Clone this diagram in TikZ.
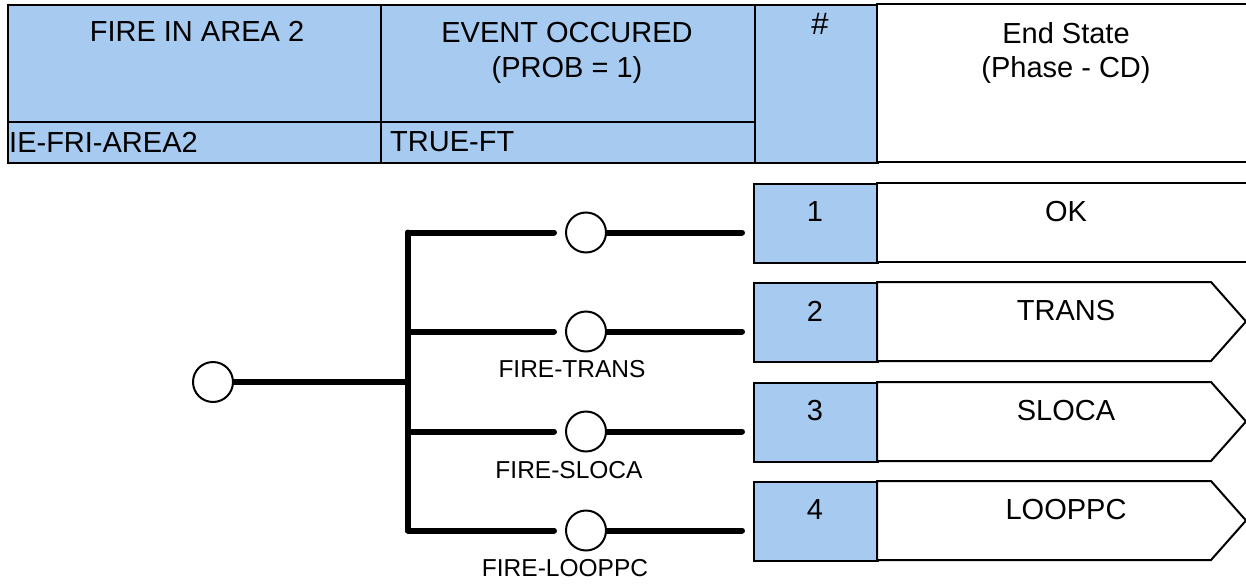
\documentclass[tikz,border=0pt]{standalone}
\usepackage{fontspec}
\setmainfont{Liberation Sans}
\usetikzlibrary{backgrounds}
\definecolor{cellblue}{RGB}{166,202,240}
\begin{document}
\begin{tikzpicture}[x=1pt,y=-1pt,
  cell/.style={draw=black,line width=2pt},
  bluecell/.style={cell,fill=cellblue,anchor=north west,inner sep=0pt},
  txt/.style={font=\fontsize{29}{34}\selectfont,inner sep=0pt},
  lbl/.style={font=\fontsize{24.5}{28}\selectfont,inner sep=0pt},
  ecirc/.style={circle,draw=black,line width=2pt,fill=white,minimum size=40pt,inner sep=0pt},
  branch/.style={line width=6pt,line cap=round},
]
\useasboundingbox (0,0) rectangle (1246,583);
\clip (0,0) rectangle (1246,583);

% ---------- header ----------
\node[bluecell,minimum width=373pt,minimum height=117pt] (h1) at (7,4) {};
\node[bluecell,minimum width=373pt,minimum height=41pt] (h1b) at (7,121) {};
\node[bluecell,minimum width=374pt,minimum height=117pt] (h2) at (380,4) {};
\node[bluecell,minimum width=374pt,minimum height=41pt] (h2b) at (380,121) {};
\node[bluecell,minimum width=123pt,minimum height=158pt] (h3) at (754,4) {};
\draw[cell,fill=white] (877,4) rectangle (1252,162);

\node[txt] (t1) at (197,31) {FIRE IN AREA 2};
\node[txt,anchor=west] (t1b) at (9,142) {IE-FRI-AREA2};
\node[txt] (t2) at (567,33) {EVENT OCCURED};
\node[txt] (t2p) at (567,70) {(PROB = 1)};
\node[txt,anchor=west] (t2b) at (390,142) {TRUE-FT};
\node[txt,font=\fontsize{31}{34}\selectfont] (t3) at (820,24) {\#};
\node[txt] (t4) at (1066,33) {End State};
\node[txt] (t4p) at (1066,70) {(Phase - CD)};

% ---------- end-state rows ----------
\foreach \i/\t in {1/183,2/282,3/382,4/481}{
  \node[bluecell,minimum width=124pt,minimum height=79pt] (n\i) at (753,\t) {};
  \node[txt] (nt\i) at (815,\t+29) {\i};
}
\draw[cell,fill=white] (877,183) rectangle (1252,262);
\foreach \t in {282,382,481}{
  \draw[cell,fill=white] (877,\t) -- (1211,\t) -- (1246,\t+39.5) -- (1211,\t+79) -- (877,\t+79) -- cycle;
}
\node[txt] (s1) at (1066,212) {OK};
\node[txt] (s2) at (1066,311) {TRANS};
\node[txt] (s3) at (1066,411) {SLOCA};
\node[txt] (s4) at (1066,510) {LOOPPC};

% ---------- event tree ----------
\node[ecirc] (init) at (213,382) {};
\coordinate (j0) at (408,382);
\foreach \i/\y in {1/232.5,2/331.5,3/431.5,4/530.5}{
  \node[ecirc] (b\i) at (586,\y) {};
  \coordinate (j\i) at (408,\y);
}
\node[lbl] (l2) at (572,369) {FIRE-TRANS};
\node[lbl] (l3) at (569,470) {FIRE-SLOCA};
\node[lbl] (l4) at (565,568) {FIRE-LOOPPC};

\begin{scope}[on background layer]
  \draw[branch] (init.east) -- (j0);
  \draw[branch] (j1) -- (j4);
  \foreach \i in {1,2,3,4}{
    \draw[branch,shorten >=11pt] (j\i) -- (b\i.west);
    \draw[branch,shorten >=11pt] (b\i.east) -- (b\i -| n\i.west);
  }
\end{scope}
\end{tikzpicture}
\end{document}
